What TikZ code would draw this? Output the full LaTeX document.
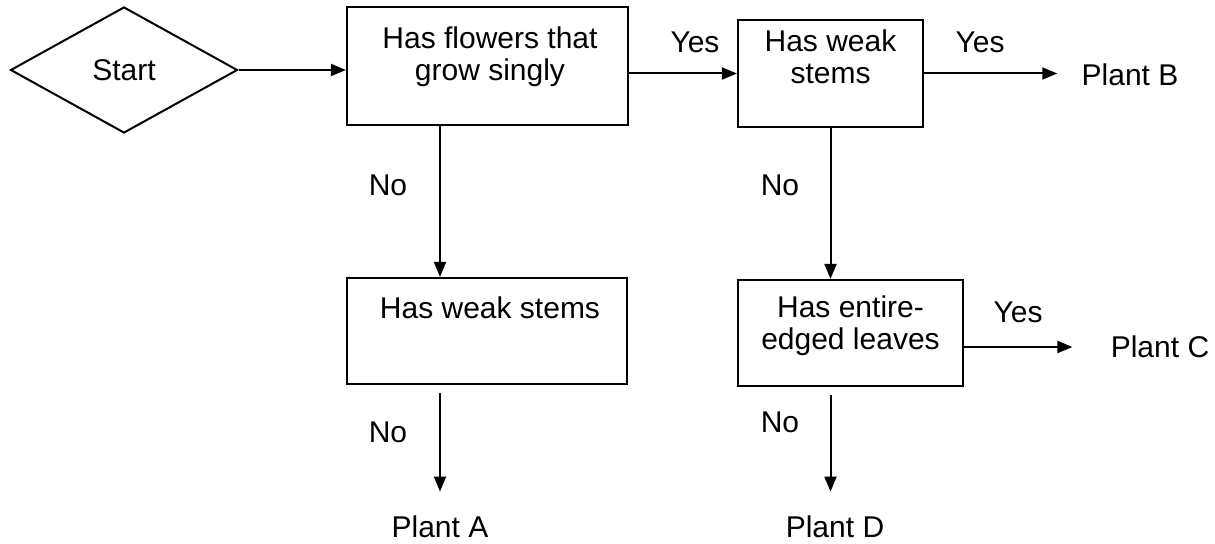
\documentclass[tikz,border=0pt]{standalone}
\usepackage{fontspec}
\setmainfont{Liberation Sans}
\usetikzlibrary{arrows.meta,shapes.geometric}
\begin{document}
\begin{tikzpicture}[x=0.5pt,y=-0.5pt,
  every node/.style={font=\fontsize{15}{16}\selectfont},
  box/.style={draw, line width=1.1pt, rectangle, inner sep=0pt},
  txt/.style={align=center, inner sep=0pt},
  lbl/.style={inner sep=0pt},
  conn/.style={line width=1pt, -{Triangle[length=7.5pt,width=6pt]}}]
\useasboundingbox (0,0) rectangle (1215,544);
% decision start
\node[draw, diamond, line width=1pt, minimum width=113.5pt, minimum height=63pt, inner sep=0pt] (start) at (124,70) {Start};
% boxes
\node[box, minimum width=140.5pt, minimum height=59pt] (b1) at (487.5,66) {};
\node[txt] (t1) at (490,57) {Has flowers that\\grow singly};
\node[box, minimum width=92.5pt, minimum height=53.5pt] (b2) at (830.5,73.5) {};
\node[txt] (t2) at (830.5,57) {Has weak\\stems};
\node[box, minimum width=140pt, minimum height=53pt] (b3) at (487,331) {};
\node[txt] (t3) at (490,308) {Has weak stems};
\node[box, minimum width=112.5pt, minimum height=53pt] (b4) at (850.5,333) {};
\node[txt] (t4) at (850.5,326) {Has entire-\\edged leaves};
% outcomes
\node[lbl] (pB) at (1130,75) {Plant B};
\node[lbl] (pC) at (1160,347) {Plant C};
\node[lbl] (pA) at (440,527) {Plant A};
\node[lbl] (pD) at (835,527) {Plant D};
% labels
\node[lbl] (y1) at (695,42) {Yes};
\node[lbl] (y2) at (980,42) {Yes};
\node[lbl] (y3) at (1018,312) {Yes};
\node[lbl] (n1) at (388,185) {No};
\node[lbl] (n2) at (780,185) {No};
\node[lbl] (n3) at (388,432) {No};
\node[lbl] (n4) at (780,422) {No};
% connectors
\draw[conn] (start.east) -- (start.east -| b1.west);
\draw[conn] (b1.east |- b2.west) -- (b2.west);
\draw[conn, shorten >=12pt] (b2.east) -- (b2.east -| pB.west);
\draw[conn] (pA |- b1.south) -- (pA |- b3.north);
\draw[conn, shorten <=4pt, shorten >=12pt] (pA |- b3.south) -- (pA.north);
\draw[conn] (b2.south) -- (b2.south |- b4.north);
\draw[conn, shorten <=4pt, shorten >=12pt] (b2.south |- b4.south) -- (b2.south |- pD.north);
\draw[conn, shorten >=19pt] (b4.east |- pC.west) -- (pC.west);
\end{tikzpicture}
\end{document}
